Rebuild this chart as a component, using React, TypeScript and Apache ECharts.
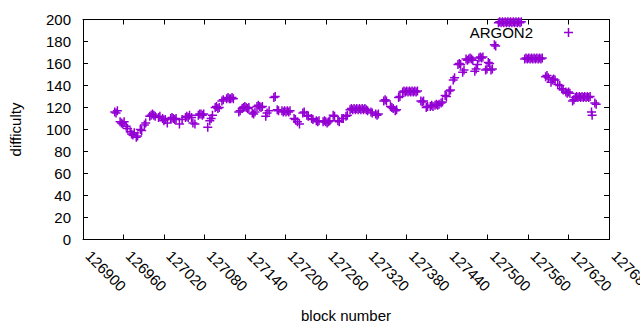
import React, { useEffect, useRef } from "react";
import * as echarts from "echarts";

const seriesName = "ARGON2";
const xTitle = "block number";
const yTitle = "difficulty";

const blocks = [
  126947, 126949, 126951,
  126955, 126957, 126959, 126961,
  126964, 126966,
  126970, 126972, 126974, 126976,
  126979, 126981,
  126985, 126987,
  126991, 126993,
  126999, 127001, 127003, 127005, 127007,
  127012, 127014,
  127018, 127020, 127022, 127025,
  127030, 127032, 127034, 127036, 127038,
  127043, 127047,
  127052, 127054, 127056, 127058,
  127061, 127063, 127066,
  127071, 127073, 127075, 127077, 127079,
  127085, 127088, 127090, 127092,
  127096, 127098, 127100, 127102,
  127106, 127108,
  127113, 127115, 127117, 127119, 127121, 127123,
  127131, 127133,
  127136, 127138, 127140, 127142, 127144, 127146,
  127151, 127153, 127155,
  127158, 127160, 127162, 127164, 127166,
  127171, 127173, 127176,
  127183, 127185,
  127188, 127190,
  127195, 127197, 127199, 127201, 127203, 127205, 127207,
  127213, 127215, 127218, 127221,
  127226, 127228,
  127232, 127234,
  127239, 127241,
  127246, 127248, 127250,
  127256, 127258, 127260, 127262, 127264, 127266,
  127271, 127273,
  127278, 127280,
  127284, 127286,
  127290, 127292,
  127296, 127298, 127300, 127302, 127304, 127306, 127308, 127310, 127312, 127314, 127316, 127318, 127320, 127322,
  127327, 127329,
  127334, 127336, 127338,
  127346, 127348, 127350,
  127356, 127358, 127360, 127363, 127365,
  127368, 127370,
  127374, 127376, 127378, 127380, 127382, 127384, 127386, 127388, 127390, 127392, 127394, 127396,
  127401, 127403, 127405,
  127409, 127411,
  127415, 127417, 127419,
  127422, 127424, 127426, 127428,
  127431, 127433,
  127437, 127439,
  127443, 127445,
  127449, 127451,
  127456, 127458, 127460,
  127463, 127465,
  127468, 127470, 127472, 127474, 127476, 127478,
  127481, 127483, 127485,
  127487, 127489, 127491, 127493,
  127497, 127499,
  127501, 127503,
  127505, 127507,
  127510, 127512,
  127516, 127518, 127520, 127522, 127524, 127526, 127528, 127530, 127532, 127534, 127536, 127538, 127540, 127542, 127544, 127546, 127548, 127550,
  127555, 127557, 127559, 127561, 127563, 127565, 127567, 127569, 127571, 127573, 127575, 127577, 127579, 127581,
  127586, 127588, 127590,
  127594, 127596, 127598, 127600,
  127604, 127607,
  127610, 127612,
  127616, 127618, 127620, 127622,
  127626, 127628,
  127630, 127632, 127634, 127636, 127638, 127640, 127642, 127644, 127646, 127648, 127650, 127652,
  127654, 127655,
  127659, 127661,
];

const difficulty = [
  116, 115, 117,
  107, 106, 105, 107,
  103, 101,
  98, 96, 95, 97,
  93, 94,
  100, 99,
  104, 106,
  112, 113, 114, 113, 112,
  111, 112,
  110, 108, 109, 106,
  110, 111, 110, 109, 110,
  105, 109,
  111, 112, 111, 113,
  111, 106, 105,
  113, 114, 114, 113, 114,
  102, 108, 110, 113,
  120, 121, 119, 120,
  126, 127,
  128, 129, 128, 128, 129, 128,
  116, 117,
  119, 120, 121, 120, 119, 120,
  115, 114, 116,
  121, 122, 121, 120, 121,
  112, 115, 117,
  129, 130,
  118, 117,
  117, 116, 117, 116, 117, 116, 117,
  110, 109, 107, 105,
  115, 116,
  113, 112,
  110, 109,
  108, 107, 108,
  107, 108, 107, 106, 107, 108,
  113, 112,
  108, 107,
  110, 110,
  112, 113,
  118, 119, 118, 119, 118, 119, 118, 119, 118, 119, 118, 119, 118, 117,
  116, 115,
  114, 113, 114,
  126, 127, 126,
  121, 120, 119, 117, 118,
  129, 130,
  134, 135, 134, 135, 134, 135, 134, 135, 134, 135, 134, 135,
  126, 125, 126,
  120, 121,
  121, 122, 121,
  122, 123, 122, 123,
  124, 125,
  131, 130,
  135, 136,
  145, 147,
  159, 160, 159,
  152, 154,
  164, 163, 164, 165, 164, 163,
  153, 155, 159,
  165, 166, 165, 166,
  154, 155,
  161, 160,
  154, 155,
  177, 176,
  197, 198, 197, 198, 197, 198, 197, 198, 197, 198, 197, 198, 197, 198, 197, 198, 197, 198,
  164, 165, 164, 165, 164, 165, 164, 165, 164, 165, 164, 165, 164, 165,
  148, 149, 147,
  143, 145, 146, 145,
  141, 140,
  137, 136,
  134, 133, 134, 133,
  126, 127,
  129, 130, 129, 130, 129, 130, 129, 130, 129, 130, 129, 130,
  116, 113,
  124, 123,
];

const xMin = 126900;
const xMax = 127680;
const xStep = 60;
const yMin = 0;
const yMax = 200;
const yStep = 20;

const PLUS =
  "path://M3.75,0H5.25V3.75H9V5.25H5.25V9H3.75V5.25H0V3.75H3.75Z";
const COLOR = "#9400D3";
const FONT = "'Liberation Sans', Arial, sans-serif";

export default function App() {
  const ref = useRef<HTMLDivElement>(null);
  useEffect(() => {
    if (!ref.current) return;
    const chart = echarts.init(ref.current, null, { renderer: "svg" });
    const data = blocks.map((b, i) => [b, difficulty[i]]);
    const tickCommon = { show: true, inside: true, length: 5, lineStyle: { color: "#000", width: 1 } };
    const lineCommon = { show: true, onZero: false, lineStyle: { color: "#000", width: 1 } };
    chart.setOption({
      animation: false,
      backgroundColor: "#fff",
      textStyle: { fontFamily: FONT },
      grid: {
        left: 83,
        right: 31,
        top: 19.5,
        bottom: 90.5,
        containLabel: false,
        outerBoundsMode: "none",
      },
      legend: {
        show: true,
        data: [{ name: seriesName, icon: PLUS }],
        align: "right",
        right: 67,
        top: 25,
        padding: 0,
        itemWidth: 9,
        itemHeight: 9,
        textStyle: { fontSize: 15, color: "#000", fontFamily: FONT, padding: [0, 26, 0, 0] },
      },
      xAxis: [
        {
          type: "value",
          min: xMin,
          max: xMax,
          interval: xStep,
          name: xTitle,
          nameLocation: "middle",
          nameGap: 68,
          nameTextStyle: { fontSize: 15, color: "#000", fontFamily: FONT },
          axisLine: lineCommon,
          axisTick: tickCommon,
          splitLine: { show: false },
          axisLabel: {
            rotate: -45,
            margin: 19,
            verticalAlign: "bottom",
            fontSize: 15,
            color: "#000",
            fontFamily: FONT,
            showMinLabel: true,
            showMaxLabel: true,
            hideOverlap: false,
            formatter: (v: number) => String(v),
          },
        },
        {
          type: "value",
          position: "top",
          min: xMin,
          max: xMax,
          interval: xStep,
          axisLine: lineCommon,
          axisTick: tickCommon,
          splitLine: { show: false },
          axisLabel: { show: false },
        },
      ],
      yAxis: [
        {
          type: "value",
          min: yMin,
          max: yMax,
          interval: yStep,
          name: yTitle,
          nameLocation: "middle",
          nameGap: 60,
          nameTextStyle: { fontSize: 15, color: "#000", fontFamily: FONT },
          axisLine: lineCommon,
          axisTick: tickCommon,
          splitLine: { show: false },
          axisLabel: { margin: 12, fontSize: 15, color: "#000", fontFamily: FONT },
        },
        {
          type: "value",
          position: "right",
          min: yMin,
          max: yMax,
          interval: yStep,
          axisLine: lineCommon,
          axisTick: tickCommon,
          splitLine: { show: false },
          axisLabel: { show: false },
        },
      ],
      series: [
        {
          name: seriesName,
          type: "scatter",
          xAxisIndex: 0,
          yAxisIndex: 0,
          symbol: PLUS,
          symbolSize: 9,
          itemStyle: { color: COLOR, opacity: 1 },
          data,
        },
      ],
    });
    return () => chart.dispose();
  }, []);
  return (
    <div
      ref={ref}
      style={{ position: "fixed", left: 0, top: 0, width: 640, height: 330, background: "#fff" }}
    />
  );
}
